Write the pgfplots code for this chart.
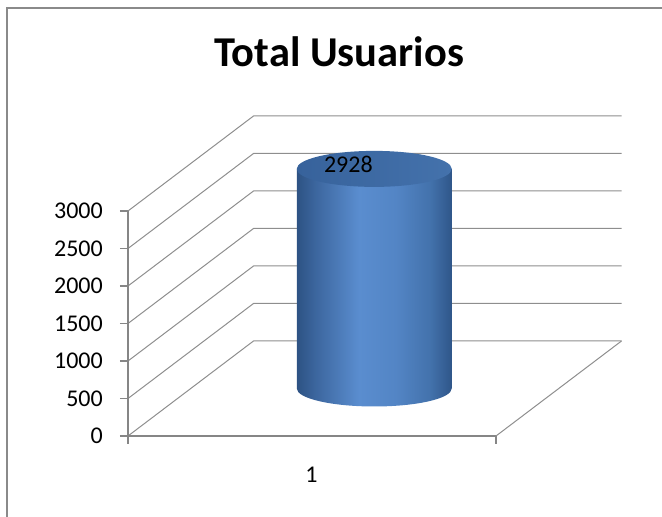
\documentclass[border=0pt]{standalone}
\usepackage{fontspec}
\setmainfont{Carlito}
\usepackage{pgfplots}
\pgfplotsset{compat=1.18}
\usepackage{pgfplotstable}

\definecolor{gridgray}{HTML}{8E8E8E}
\definecolor{axgray}{HTML}{868686}
\definecolor{framegray}{HTML}{8A8A8A}
\definecolor{cA}{HTML}{2D5283}
\definecolor{cB}{HTML}{3C669E}
\definecolor{cC}{HTML}{5A8DCF}
\definecolor{cD}{HTML}{5385C5}
\definecolor{cE}{HTML}{4372AC}
\definecolor{cF}{HTML}{2F5689}
\definecolor{tA}{HTML}{37629B}
\definecolor{tB}{HTML}{4472AC}

\pgfdeclarehorizontalshading{cylbody}{100bp}{color(0bp)=(cA); color(25bp)=(cA); color(31bp)=(cB); color(45bp)=(cC); color(57bp)=(cD); color(68bp)=(cE); color(75bp)=(cF); color(100bp)=(cF)}
\pgfdeclarehorizontalshading{cyltop}{100bp}{color(0bp)=(tA); color(25bp)=(tA); color(75bp)=(tB); color(100bp)=(tB)}

% cylinder drawn from the data value (height = value * y unit)
\pgfdeclareplotmark{cyl}{%
  \pgfmathsetmacro\cylh{\cylval*0.075}%
  \begin{scope}[cm={1,0.0645,0,1,(0pt,0pt)}]
    \path[shading=cylbody, draw=none] (-77.5pt,0pt) -- (-77.5pt,-\cylh pt)
      arc[start angle=180,end angle=360,x radius=77.5pt,y radius=18pt]
      -- (77.5pt,0pt) -- cycle;
    \path[shading=cyltop, draw=none] (0pt,0pt) ellipse [x radius=77.5pt, y radius=18pt];
  \end{scope}
}

\pgfplotstableread{
x y
246.25 2928
}\cyldata

\begin{document}
\begin{tikzpicture}[x=1pt,y=1pt]
\useasboundingbox (0,0) rectangle (662,517);
\draw[framegray, line width=1.6pt] (6.7,-10) -- (6.7,509) -- (680,509);
\node[font=\bfseries\fontsize{42.5}{50}\selectfont, anchor=base] at (339.2,450.3) {Total Usuarios};
\begin{axis}[
  at={(128pt,81pt)}, anchor=south west,
  x=1pt, y=0.075pt,
  xmin=0, xmax=493.5, ymin=0, ymax=4266.67,
  clip=false,
  axis line style={draw=none},
  xtick pos=bottom, ytick pos=left,
  tick align=outside,
  major tick length=8pt,
  tick style={axgray, line width=1.3pt},
  ytick={0,500,1000,1500,2000,2500,3000},
  xtick={0,368}, xticklabels={},
  extra x ticks={183.5}, extra x tick labels={1},
  extra x tick style={major tick length=0pt},
  scaled y ticks=false,
  /pgf/number format/1000 sep={},
  /pgf/number format/assume math mode=true,
  every tick label/.append style={font=\fontsize{24}{28}\selectfont},
  yticklabel style={anchor=east, inner sep=0pt, xshift=-17pt},
  xticklabel style={anchor=north, inner sep=0pt, yshift=-30.7pt},
  gl/.style={draw=gridgray, line width=1pt, mark=none, forget plot},
]
% left wall + back wall grid
\addplot[gl] coordinates {(0,0) (125.5,1266.67) (493.5,1266.67)};
\addplot[gl] coordinates {(0,500) (125.5,1766.67) (493.5,1766.67)};
\addplot[gl] coordinates {(0,1000) (125.5,2266.67) (493.5,2266.67)};
\addplot[gl] coordinates {(0,1500) (125.5,2766.67) (493.5,2766.67)};
\addplot[gl] coordinates {(0,2000) (125.5,3266.67) (493.5,3266.67)};
\addplot[gl] coordinates {(0,2500) (125.5,3766.67) (493.5,3766.67)};
\addplot[gl] coordinates {(0,3000) (125.5,4266.67) (493.5,4266.67)};
% floor front and right edges
\addplot[gl, draw=axgray, line width=1.3pt] coordinates {(0,0) (368,0)};
\addplot[gl] coordinates {(368,0) (493.5,1266.67)};
% front value axis
\addplot[gl, draw=axgray, line width=1.3pt] coordinates {(0,0) (0,3000)};
% cylinder (mid depth: shift of half the wall depth)
\addplot[mark=cyl, only marks, draw=none,
  mark options={draw=none},
  y filter/.expression={y+633.33},
  visualization depends on={\thisrow{y} \as \cylval},
  point meta=explicit,
  nodes near coords,
  every node near coord/.append style={anchor=center, inner sep=0pt, xshift=-25.85pt, yshift=5pt, font=\fontsize{24}{28}\selectfont, text=black},
] table[x=x, y=y, meta=y] {\cyldata};
\end{axis}
\end{tikzpicture}
\end{document}
